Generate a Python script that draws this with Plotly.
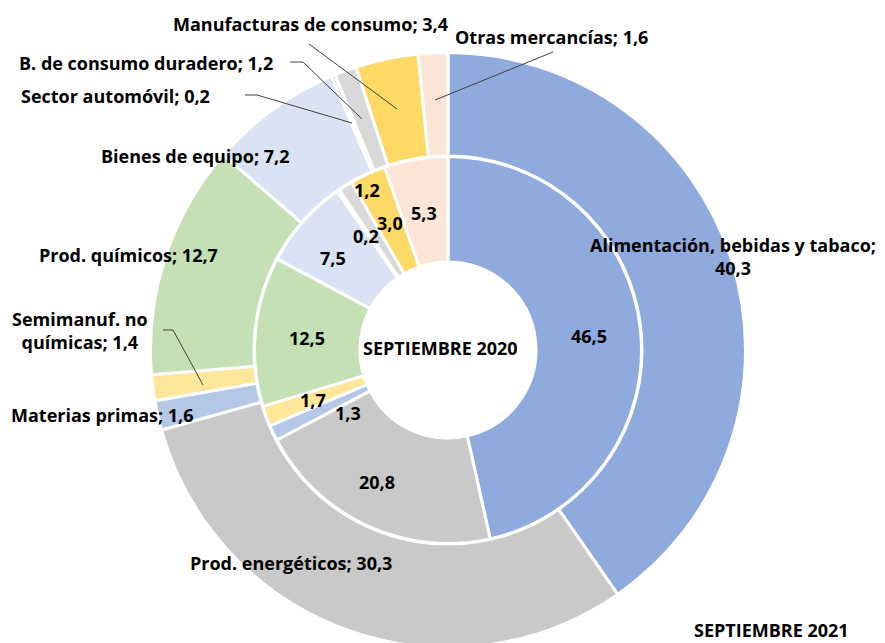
import plotly.graph_objects as go

# ---- data ----
categories = [
    "Alimentación, bebidas y tabaco",
    "Prod. energéticos",
    "Materias primas",
    "Semimanuf. no químicas",
    "Prod. químicos",
    "Bienes de equipo",
    "Sector automóvil",
    "B. de consumo duradero",
    "Manufacturas de consumo",
    "Otras mercancías",
]
values_2021 = [40.3, 30.3, 1.6, 1.4, 12.7, 7.2, 0.2, 1.2, 3.4, 1.6]
values_2020 = [46.5, 20.8, 1.3, 1.7, 12.5, 7.5, 0.2, 1.2, 3.0, 5.3]
series_names = ["SEPTIEMBRE 2021", "SEPTIEMBRE 2020"]

# ---- styles / layout helpers ----
colors = ["#8FAADC", "#C9C9C9", "#B4C7E7", "#FFE699", "#C5E0B4",
          "#DAE3F3", "#D0D0D0", "#D9D9D9", "#FFD966", "#FBE5D6"]

W, H = 885, 643
OFF = 8  # page body margin
FONT = "Open Sans"
FS = 18


def px(x):
    return (x - OFF) / W


def py(y):
    return 1 - (y - OFF) / H


def fmt(v):
    return f"{v:.1f}".replace(".", ",")


# outer label positions (window pixel centres) and line breaks
outer_label_pos = [(733, 256), (291, 563), (102, 415), (80, 330), (128, 255),
                   (195, 156), (115, 96), (146, 63), (310, 24), (551, 37)]
outer_break = {0: "value", 3: "name"}
inner_label_pos = [(589, 336), (377, 482), (348, 413), (313, 400), (307, 338),
                   (333, 258), (366, 236), (367, 190), (390, 223), (424, 213)]

leader_paths = [
    [(309, 44), (397, 109)],
    [(290, 62), (303, 62), (362, 119)],
    [(245, 95), (257, 95), (352, 123)],
    [(553, 52), (435, 100)],
    [(163, 330), (173, 330), (203, 385)],
]

fig = go.Figure()

BW = 3  # slice border width
cx, cy = 448, 350
R1 = 296 + BW / 2
fig.add_trace(go.Pie(
    labels=categories, values=values_2021, name=series_names[0],
    sort=False, direction="clockwise", rotation=0,
    hole=194 / R1,
    marker=dict(colors=colors, line=dict(color="white", width=BW)),
    textinfo="none", hoverinfo="label+value",
    domain=dict(x=[px(cx - R1), px(cx + R1)], y=[max(0, py(cy + R1)), py(cy - R1)]),
    showlegend=False,
))

R2 = 192 + BW / 2
fig.add_trace(go.Pie(
    labels=categories, values=values_2020, name=series_names[1],
    sort=False, direction="clockwise", rotation=0,
    hole=88 / R2,
    marker=dict(colors=colors, line=dict(color="white", width=BW)),
    textinfo="none", hoverinfo="label+value",
    domain=dict(x=[px(cx - R2), px(cx + R2)], y=[py(cy + R2), py(cy - R2)]),
    showlegend=False,
))

annotations = []
for i, (name, v) in enumerate(zip(categories, values_2021)):
    if outer_break.get(i) == "value":
        txt = f"{name};<br>{fmt(v)}"
    elif outer_break.get(i) == "name":
        parts = name.split(" ")
        txt = " ".join(parts[:2]) + "<br>" + " ".join(parts[2:]) + f"; {fmt(v)}"
    else:
        txt = f"{name}; {fmt(v)}"
    x, y = outer_label_pos[i]
    annotations.append(dict(text=f"<b>{txt}</b>", x=px(x), y=py(y), xref="paper", yref="paper",
                            showarrow=False, xanchor="center", yanchor="middle", align="center"))

for i, v in enumerate(values_2020):
    x, y = inner_label_pos[i]
    annotations.append(dict(text=f"<b>{fmt(v)}</b>", x=px(x), y=py(y), xref="paper", yref="paper",
                            showarrow=False, xanchor="center", yanchor="middle"))

annotations.append(dict(text=f"<b>{series_names[1]}</b>", x=px(440), y=py(348), xref="paper",
                        yref="paper", showarrow=False, xanchor="center", yanchor="middle"))
annotations.append(dict(text=f"<b>{series_names[0]}</b>", x=px(771), y=py(630), xref="paper",
                        yref="paper", showarrow=False, xanchor="center", yanchor="middle"))

shapes = []
for pts in leader_paths:
    path = "M " + " L ".join(f"{px(x)},{py(y)}" for x, y in pts)
    shapes.append(dict(type="path", path=path, xref="paper", yref="paper",
                       line=dict(color="#404040", width=1)))

fig.update_layout(
    width=W, height=H,
    margin=dict(l=0, r=0, t=0, b=0),
    paper_bgcolor="white", plot_bgcolor="white",
    font=dict(family=FONT, size=FS, color="black"),
    annotations=annotations, shapes=shapes,
    showlegend=False,
)

fig.write_html("out.html")
